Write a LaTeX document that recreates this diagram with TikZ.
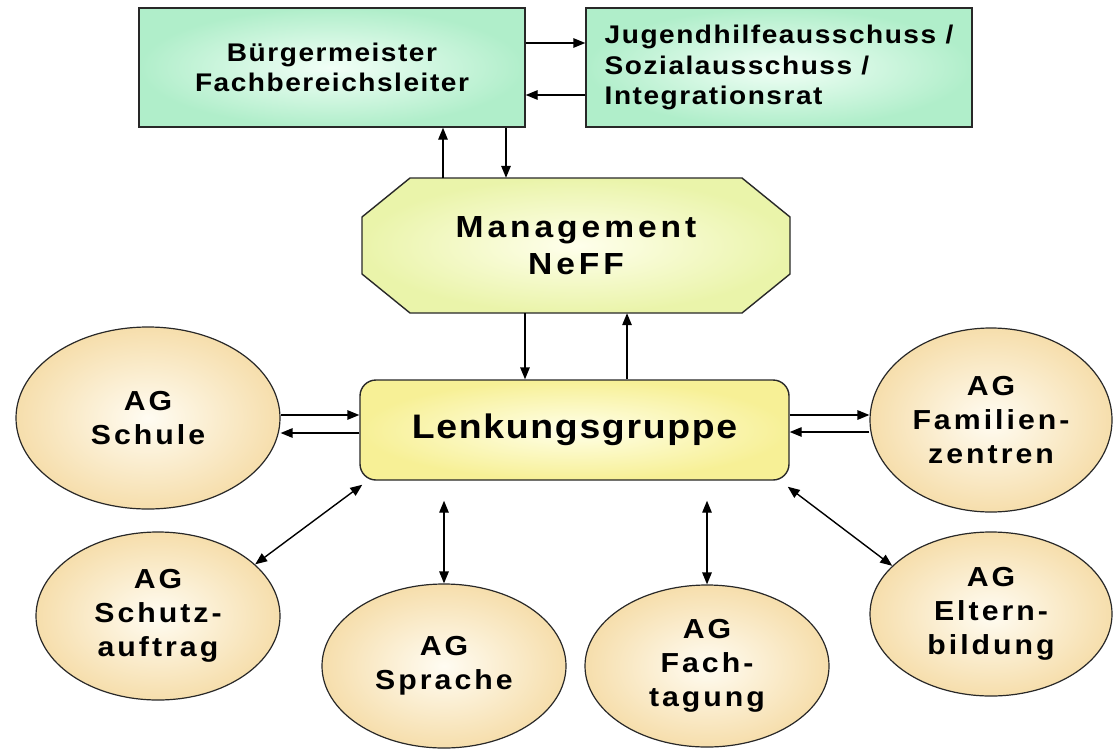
\documentclass[tikz,border=0pt]{standalone}
\usepackage{fontspec}
\setmainfont{Liberation Sans}[FakeStretch=1.1]
\usetikzlibrary{positioning, shapes.geometric}
\usetikzlibrary{shadings}
\usetikzlibrary{arrows, arrows.meta}
\definecolor{mint}{RGB}{176,238,202}
\definecolor{mintin}{RGB}{242,255,247}
\definecolor{lime}{RGB}{234,244,170}
\definecolor{limein}{RGB}{255,255,236}
\definecolor{gelb}{RGB}{247,240,150}
\definecolor{gelbin}{RGB}{255,255,232}
\definecolor{sand}{RGB}{246,222,172}
\definecolor{sandin}{RGB}{255,252,242}
\definecolor{rand}{RGB}{40,40,40}
\tikzset{ box/.style={draw=rand, line width=1.4pt, rectangle,
            inner color=mintin, outer color=mint,
            minimum width=386pt, minimum height=119pt,
            font=\bfseries\fontsize{25.5}{30.5}\selectfont\addfontfeature{LetterSpace=6},
            align=center},
          ag/.style={ellipse, draw=rand, line width=1.2pt,
            inner color=sandin, outer color=sand, inner sep=0pt,
            font=\bfseries\fontsize{27.5}{34}\selectfont\addfontfeature{LetterSpace=11},
            align=center},
          pfeil/.style={-{Triangle[length=12pt,width=9.5pt]}, line width=1.4pt},
          doppel/.style={{Triangle[length=12pt,width=9.5pt]}-{Triangle[length=12pt,width=9.5pt]},
            line width=1.4pt}}
\begin{document}
\begin{tikzpicture}[x=1pt, y=-1pt]
\path[fill=white, use as bounding box] (0,0) rectangle (1115,749);

% Leitung oben
\node[box] (bm) at (332,67.5) {Bürgermeister\\Fachbereichsleiter};
\node[box, align=left] (jh) at (779,67.5)
  {Jugendhilfeausschuss /\\Sozialausschuss /\\Integrationsrat};

% Management (Achteck)
\draw[draw=rand, line width=1.4pt, inner color=limein, outer color=lime]
  (362,217) -- (410,178) -- (742,178) -- (790,217) -- (790,274)
  -- (742,313) -- (410,313) -- (362,274) -- cycle;
\node[minimum width=428pt, minimum height=135pt, align=center,
  font=\bfseries\fontsize{30.5}{37}\selectfont\addfontfeature{LetterSpace=13}]
  (mgmt) at (576,245.5) {Management\\NeFF};

% Lenkungsgruppe
\node[draw=rand, line width=1.4pt, rounded corners=16pt,
  inner color=gelbin, outer color=gelb,
  minimum width=429pt, minimum height=100pt,
  font=\bfseries\fontsize{34}{40}\selectfont\addfontfeature{LetterSpace=5}]
  (lenk) at (574.5,430) {Lenkungsgruppe};

% Arbeitsgruppen
\foreach \n/\x/\y/\w/\h/\t in {
    schule/148/418/264/182/{AG\\Schule},
    schutz/158/616/244/168/{AG\\Schutz-\\auftrag},
    sprache/444/666/244/164/{AG\\Sprache},
    fach/707/666/244/162/{AG\\Fach-\\tagung},
    famz/991/420/242/184/{AG\\Familien-\\zentren},
    eltern/991/614/242/164/{AG\\Eltern-\\bildung}}
  \node[ag, minimum width=\w pt, minimum height=\h pt] (\n) at (\x,\y) {\t};

% Verbindungen oben
\draw[pfeil] ([yshift=24.5pt]bm.east) -- ([yshift=24.5pt]jh.west);
\draw[pfeil] ([yshift=-27.5pt]jh.west) -- ([yshift=-27.5pt]bm.east);
\draw[pfeil] ([xshift=-133pt]mgmt.north) -- ([xshift=-133pt]mgmt.north |- bm.south);
\draw[pfeil] ([xshift=-70pt]mgmt.north |- bm.south) -- ([xshift=-70pt]mgmt.north);

% Management <-> Lenkungsgruppe
\draw[pfeil] ([xshift=-49.5pt]lenk.north |- mgmt.south) -- ([xshift=-49.5pt]lenk.north);
\draw[pfeil] ([xshift=52.5pt]lenk.north) -- ([xshift=52.5pt]lenk.north |- mgmt.south);

% Lenkungsgruppe <-> AGs
\draw[pfeil] ([yshift=15pt]schule.east |- lenk.west) -- ([yshift=15pt]lenk.west);
\draw[pfeil] ([yshift=-3pt]lenk.west) -- ([yshift=-3pt]schule.east |- lenk.west);
\draw[pfeil] ([yshift=15pt]lenk.east) -- ([yshift=15pt]famz.west |- lenk.east);
\draw[pfeil] ([yshift=-2pt]famz.west |- lenk.east) -- ([yshift=-2pt]lenk.east);
\draw[doppel] ([shift={(3pt,-4pt)}]lenk.south west) -- (schutz.28);
\draw[doppel] ([yshift=-20pt]lenk.south -| sprache.north) -- (sprache.north);
\draw[doppel] ([yshift=-20pt]lenk.south -| fach.north) -- (fach.north);
\draw[doppel] ([shift={(-2pt,-6pt)}]lenk.south east) -- (eltern.154);
\end{tikzpicture}
\end{document}
